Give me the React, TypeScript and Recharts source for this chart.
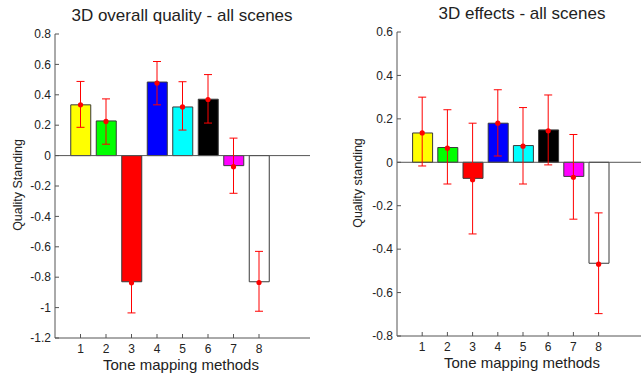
import { ComposedChart, Bar, Scatter, ErrorBar, XAxis, YAxis, Cell, ReferenceLine } from 'recharts';

const methods = [1, 2, 3, 4, 5, 6, 7, 8];
const barColors = ['#ffff00', '#00ff00', '#ff0000', '#0000ff', '#00ffff', '#000000', '#ff00ff', '#ffffff'];
const xTicks = [1, 2, 3, 4, 5, 6, 7, 8];

// 3D overall quality
const overallBars = [0.334, 0.228, -0.83, 0.484, 0.32, 0.371, -0.066, -0.83];
const overallDots = [0.334, 0.225, -0.837, 0.477, 0.32, 0.369, -0.073, -0.835];
const overallHigh = [0.488, 0.373, -0.64, 0.619, 0.486, 0.533, 0.115, -0.63];
const overallLow = [0.186, 0.075, -1.035, 0.334, 0.168, 0.214, -0.248, -1.024];
const overallTicks = [-1.2, -1, -0.8, -0.6, -0.4, -0.2, 0, 0.2, 0.4, 0.6, 0.8];

// 3D effects
const effectsBars = [0.135, 0.068, -0.074, 0.18, 0.077, 0.149, -0.065, -0.465];
const effectsDots = [0.135, 0.065, -0.08, 0.18, 0.074, 0.145, -0.069, -0.469];
const effectsHigh = [0.3, 0.242, 0.18, 0.334, 0.252, 0.31, 0.128, -0.233];
const effectsLow = [-0.017, -0.1, -0.33, 0.029, -0.1, -0.012, -0.262, -0.697];
const effectsTicks = [-0.8, -0.6, -0.4, -0.2, 0, 0.2, 0.4, 0.6];

const FONT = '"Liberation Sans", Arial, Helvetica, sans-serif';
const AXIS = '#555';

function buildRows(bars: number[], dots: number[], high: number[], low: number[]) {
  return methods.map((m, i) => ({
    method: m,
    value: bars[i],
    mean: dots[i],
    err: [dots[i] - low[i], high[i] - dots[i]],
  }));
}

const Dot = (props: any) => <circle cx={props.cx} cy={props.cy} r={2.6} fill="#ff0000" />;

type PanelProps = {
  left: number;
  top: number;
  plotLeft: number;
  plotRight: number;
  bottomMargin: number;
  rows: ReturnType<typeof buildRows>;
  yTicks: number[];
};

function Panel({ left, top, plotLeft, plotRight, bottomMargin, rows, yTicks }: PanelProps) {
  const width = 330;
  const domain: [number, number] = [yTicks[0], yTicks[yTicks.length - 1]];
  const tickStyle = { fontSize: 12, fill: '#222', fontFamily: FONT };
  return (
    <div style={{ position: 'absolute', left, top: 0 }}>
      <ComposedChart
        width={width}
        height={376}
        data={rows}
        margin={{ top, right: width - plotRight, bottom: bottomMargin, left: 0 }}
      >
        <XAxis
          dataKey="method"
          type="number"
          domain={[0, 10]}
          ticks={xTicks}
          allowDataOverflow
          height={20}
          tickSize={-4}
          tickMargin={10}
          stroke={AXIS}
          tick={tickStyle}
        />
        <XAxis
          xAxisId="top"
          orientation="top"
          dataKey="method"
          type="number"
          domain={[0, 10]}
          ticks={xTicks}
          height={0}
          tickSize={-4}
          tick={false}
          stroke={AXIS}
        />
        <YAxis
          type="number"
          domain={domain}
          ticks={yTicks}
          width={plotLeft}
          tickSize={-4}
          tickMargin={8}
          stroke={AXIS}
          tick={tickStyle}
          tickFormatter={(v: number) => String(v)}
        />
        <YAxis
          yAxisId="right"
          orientation="right"
          type="number"
          domain={domain}
          ticks={yTicks}
          width={0}
          tickSize={-4}
          tick={false}
          stroke={AXIS}
        />
        <ReferenceLine y={0} stroke={AXIS} strokeWidth={1} />
        <Bar dataKey="value" barSize={20} stroke="#3a3a3a" strokeWidth={1} isAnimationActive={false}>
          {rows.map((r, i) => (
            <Cell key={r.method} fill={barColors[i]} />
          ))}
        </Bar>
        <Scatter dataKey="mean" shape={Dot} isAnimationActive={false}>
          <ErrorBar dataKey="err" direction="y" width={4} stroke="#ff0000" strokeWidth={1} />
        </Scatter>
      </ComposedChart>
    </div>
  );
}

const label = (extra: React.CSSProperties): React.CSSProperties => ({
  position: 'absolute',
  fontFamily: FONT,
  color: '#222',
  lineHeight: 1,
  whiteSpace: 'nowrap',
  ...extra,
});

export default function App() {
  const overallRows = buildRows(overallBars, overallDots, overallHigh, overallLow);
  const effectsRows = buildRows(effectsBars, effectsDots, effectsHigh, effectsLow);
  return (
    <div
      style={{
        position: 'absolute',
        left: 0,
        top: 0,
        width: 641,
        height: 376,
        overflow: 'hidden',
        background: '#fff',
      }}
    >
      <Panel left={0} top={34} plotLeft={55} plotRight={310} bottomMargin={18} rows={overallRows} yTicks={overallTicks} />
      <Panel left={330} top={32} plotLeft={67} plotRight={319} bottomMargin={20} rows={effectsRows} yTicks={effectsTicks} />

      <div style={label({ left: 182, top: 7, fontSize: 17, transform: 'translateX(-50%)' })}>
        3D overall quality - all scenes
      </div>
      <div style={label({ left: 522, top: 5, fontSize: 17, transform: 'translateX(-50%)' })}>
        3D effects - all scenes
      </div>
      <div style={label({ left: 181, top: 357, fontSize: 15, transform: 'translateX(-50%)' })}>
        Tone mapping methods
      </div>
      <div style={label({ left: 522, top: 355, fontSize: 15, transform: 'translateX(-50%)' })}>
        Tone mapping methods
      </div>
      <div style={label({ left: 18, top: 185, fontSize: 12.5, transform: 'translate(-50%, -50%) rotate(-90deg)' })}>
        Quality Standing
      </div>
      <div style={label({ left: 358, top: 183, fontSize: 12.5, transform: 'translate(-50%, -50%) rotate(-90deg)' })}>
        Quality standing
      </div>
    </div>
  );
}
